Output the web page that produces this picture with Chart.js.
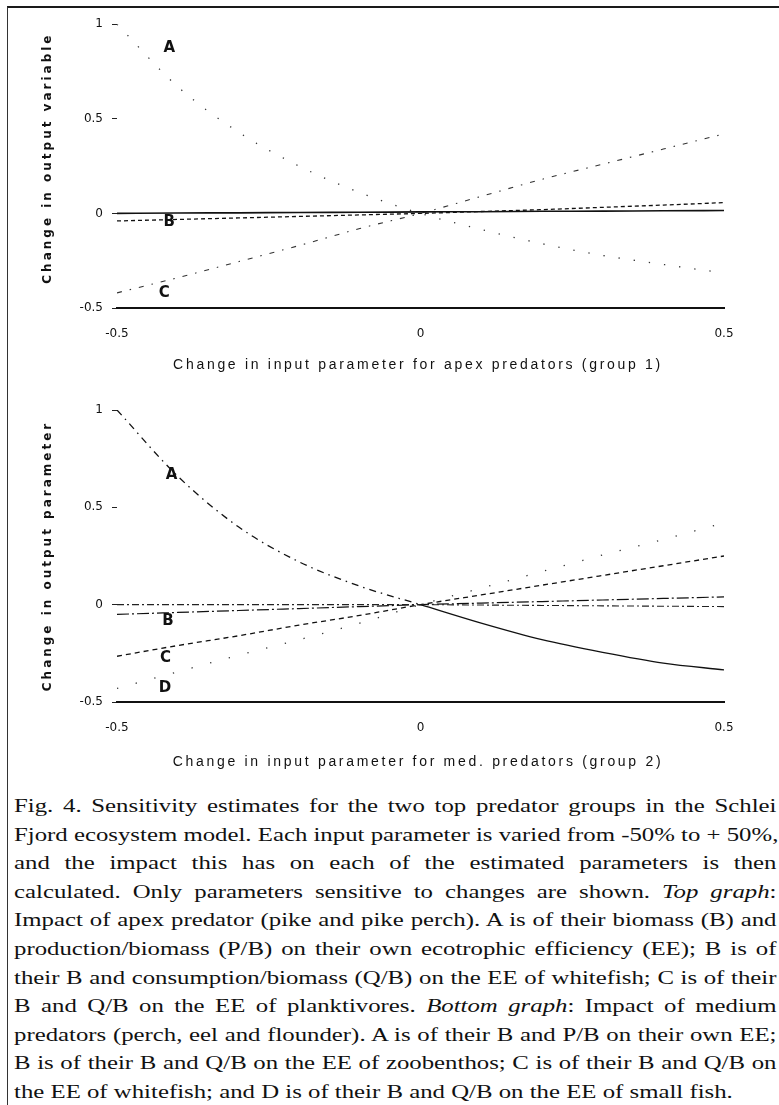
<!DOCTYPE html>
<html>
<head>
<meta charset="utf-8">
<script src="https://cdn.jsdelivr.net/npm/chart.js@4.4.0/dist/chart.umd.min.js"></script>
<style>
  html, body { margin: 0; padding: 0; background: #fff; }
  body { width: 779px; height: 1105px; position: relative; overflow: hidden; }
  .frame { position: absolute; left: 7px; top: 6px; width: 772px; height: 1100px;
           border-top: 2.5px solid #1a1a1a; border-left: 1px solid #333; }
  canvas { position: absolute; left: 0; }
  #top { top: 8px; }
  #bottom { top: 385px; }
  .caption { position: absolute; left: 14px; top: 792px; width: 569px;
             transform: scaleX(1.34); transform-origin: 0 0;
             font: 18.5px "Liberation Serif", "Times New Roman", serif; line-height: 28.6px; color: #111; }
  .ln { text-align: justify; text-align-last: justify; white-space: nowrap; }
  .ln.last { text-align-last: left; }
</style>
</head>
<body>
<div class="frame"></div>
<canvas id="top" width="779" height="372"></canvas>
<canvas id="bottom" width="779" height="395"></canvas>
<div class="caption">
  <div class="ln">Fig. 4. Sensitivity estimates for the two top predator groups in the Schlei</div>
  <div class="ln">Fjord ecosystem model. Each input parameter is varied from -50% to + 50%,</div>
  <div class="ln">and the impact this has on each of the estimated parameters is then</div>
  <div class="ln">calculated. Only parameters sensitive to changes are shown. <i>Top graph</i>:</div>
  <div class="ln">Impact of apex predator (pike and pike perch). A is of their biomass (B) and</div>
  <div class="ln">production/biomass (P/B) on their own ecotrophic efficiency (EE); B is of</div>
  <div class="ln">their B and consumption/biomass (Q/B) on the EE of whitefish; C is of their</div>
  <div class="ln">B and Q/B on the EE of planktivores. <i>Bottom graph</i>: Impact of medium</div>
  <div class="ln">predators (perch, eel and flounder). A is of their B and P/B on their own EE;</div>
  <div class="ln">B is of their B and Q/B on the EE of zoobenthos; C is of their B and Q/B on</div>
  <div class="ln last">the EE of whitefish; and D is of their B and Q/B on the EE of small fish.</div>
</div>
<script>
// change in input parameter (x) shared by both graphs
const inputChange = [-0.5, -0.4, -0.3, -0.2, -0.1, 0, 0.1, 0.2, 0.3, 0.4, 0.5];
const yTicks = [-0.5, 0, 0.5, 1];

// top graph: apex predators (group 1)
const topA = [1.0, 0.67, 0.43, 0.25, 0.11, 0, -0.085, -0.16, -0.222, -0.27, -0.315];
const topB = [-0.04, -0.032, -0.024, -0.016, -0.008, 0, 0.01, 0.02, 0.032, 0.044, 0.057];
const topC = [-0.42, -0.34, -0.255, -0.17, -0.08, 0, 0.09, 0.18, 0.26, 0.34, 0.42];
const topFlat = [0, 0.002, 0.003, 0.005, 0.006, 0.008, 0.009, 0.011, 0.012, 0.014, 0.015];

// bottom graph: medium predators (group 2)
const botA = [1.0, 0.66, 0.40, 0.22, 0.095, 0, -0.095, -0.18, -0.245, -0.3, -0.335];
const botB = [-0.05, -0.04, -0.03, -0.02, -0.01, 0, 0.008, 0.016, 0.024, 0.032, 0.04];
const botC = [-0.265, -0.21, -0.16, -0.105, -0.055, 0, 0.05, 0.1, 0.15, 0.2, 0.25];
const botD = [-0.43, -0.345, -0.26, -0.18, -0.095, 0, 0.085, 0.17, 0.255, 0.335, 0.42];
const botFlat = [0, 0, 0, 0, 0, 0, -0.002, -0.004, -0.006, -0.008, -0.01];

// curve letters and where they sit (data units)
const topLetters = ['A', 'B', 'C'];
const topLetterX = [-0.414, -0.414, -0.422];
const topLetterY = [0.876, -0.046, -0.423];
const botLetters = ['A', 'B', 'C', 'D'];
const botLetterX = [-0.41, -0.416, -0.42, -0.421];
const botLetterY = [0.665, -0.082, -0.273, -0.428];

function pts(ys) {
    return inputChange.map((x, i) => ({ x: x, y: ys[i] }));
}

function line(ys, dash, width, color) {
    return {
        data: pts(ys),
        borderColor: color || '#111',
        borderWidth: width || 1.2,
        borderDash: dash || [],
        pointRadius: 0,
        fill: false,
        cubicInterpolationMode: 'monotone'
    };
}

// axis titles and curve letters
const figureText = {
    id: 'figureText',
    afterDraw(chart, args, opts) {
        const { ctx, chartArea, scales } = chart;
        ctx.save();
        ctx.fillStyle = '#111';
        ctx.textAlign = 'center';
        ctx.textBaseline = 'middle';

        ctx.font = 'bold 12px "DejaVu Sans"';
        ctx.letterSpacing = opts.ySpacing;
        ctx.save();
        ctx.translate(48, (chartArea.top + chartArea.bottom) / 2 + opts.yShift);
        ctx.rotate(-Math.PI / 2);
        ctx.fillText(opts.yTitle, 0, 0);
        ctx.restore();

        ctx.font = '14px "Liberation Sans"';
        ctx.letterSpacing = opts.xSpacing;
        ctx.fillText(opts.xTitle, 418, chartArea.bottom + opts.xGap);

        ctx.letterSpacing = '0px';
        ctx.font = 'bold 15px "DejaVu Sans"';
        opts.letters.forEach((t, i) => {
            ctx.fillText(t, scales.x.getPixelForValue(opts.letterX[i]), scales.y.getPixelForValue(opts.letterY[i]));
        });
        ctx.restore();
    }
};

function makeChart(id, datasets, pad, xHeight, text) {
    const canvas = document.getElementById(id);
    return new Chart(canvas.getContext('2d'), {
        type: 'line',
        data: { datasets: datasets },
        plugins: [figureText],
        options: {
            responsive: false,
            animation: false,
            layout: { padding: pad },
            plugins: { legend: { display: false }, tooltip: { enabled: false }, figureText: text },
            scales: {
                x: {
                    type: 'linear', min: -0.5, max: 0.5,
                    afterFit: (s) => { s.height = xHeight; },
                    grid: { display: false, drawTicks: false },
                    border: { display: true, color: '#111', width: 2 },
                    ticks: { stepSize: 0.5, padding: 19, color: '#111', font: { family: 'DejaVu Sans', size: 12 } }
                },
                y: {
                    min: -0.5, max: 1,
                    afterFit: (s) => { s.width = 117; },
                    afterBuildTicks: (s) => { s.ticks = yTicks.map(v => ({ value: v })); },
                    grid: { display: true, drawOnChartArea: false, drawTicks: true, tickLength: 5, color: '#222', lineWidth: 1 },
                    border: { display: false },
                    ticks: {
                        padding: 9, color: '#111', font: { family: 'DejaVu Sans', size: 12 },
                        callback: (v) => String(v)
                    }
                }
            }
        }
    });
}

makeChart('top', [
    line(topFlat, [], 1.6, '#111'),
    line(topB, [4, 3], 1.3, '#111'),
    line(topC, [5, 8, 1.5, 8], 1.1, '#333'),
    line(topA, [1.3, 14], 1.3, '#333')
], { left: 0, right: 55, top: 9, bottom: 0 }, 72, {
    yTitle: 'Change in output variable', yShift: -8, ySpacing: '3px',
    xTitle: 'Change in input parameter for apex predators (group 1)', xGap: 57, xSpacing: '2.7px',
    letters: topLetters, letterX: topLetterX, letterY: topLetterY
});

const botAline = line(botA, [], 1.3, '#111');
botAline.segment = { borderDash: (c) => c.p0.parsed.x < -0.05 ? [7, 5, 1.5, 5] : undefined };

makeChart('bottom', [
    botAline,
    line(botFlat, [7, 3, 2, 3], 1.1, '#222'),
    line(botB, [12, 3, 2, 3], 1.2, '#111'),
    line(botC, [5, 4], 1.3, '#111'),
    line(botD, [1.3, 18], 1.3, '#333')
], { left: 0, right: 55, top: 25, bottom: 0 }, 78, {
    yTitle: 'Change in output parameter', yShift: 0, ySpacing: '3px',
    xTitle: 'Change in input parameter for med. predators (group 2)', xGap: 60, xSpacing: '2.7px',
    letters: botLetters, letterX: botLetterX, letterY: botLetterY
});
</script>
</body>
</html>
